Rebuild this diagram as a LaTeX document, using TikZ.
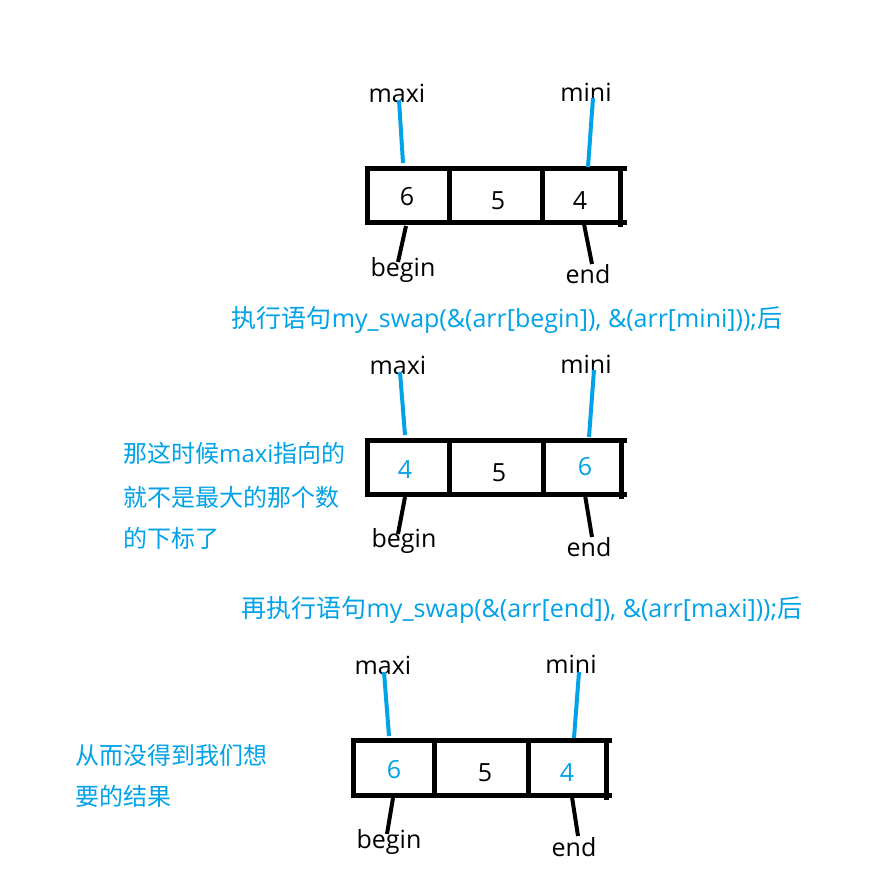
\documentclass[tikz,border=0pt]{standalone}
\usepackage{fontspec}
\setmainfont{Open Sans}
\newfontfamily\cjk{Noto Sans CJK SC}
\definecolor{pblue}{HTML}{00A2E8}
\tikzset{
  lbl/.style={inner sep=0pt, font=\fontsize{25}{29}\selectfont},
  bnum/.style={lbl, text=pblue},
  btxt/.style={inner sep=0pt, anchor=west, text=pblue, font=\fontsize{24}{28}\selectfont},
  captxt/.style={inner sep=0pt, text=pblue, font=\fontsize{25}{29}\selectfont},
  bline/.style={pblue, line width=4pt},
  kline/.style={black, line width=4pt},
  boxln/.style={black, line width=5pt, line cap=rect},
}
\begin{document}
\begin{tikzpicture}[x=1pt, y=-1pt]
\useasboundingbox (0,0) rectangle (889,884);
\fill[white] (0,0) rectangle (889,884);

% ---------- diagram 1 ----------
\draw[boxln] (367,168) -- (624,168) (367,222) -- (624,222);
\draw[boxln] (367,168) -- (367,222) (449,168) -- (449,222) (542,168) -- (542,222) (620,168) -- (620,224);
\node[lbl] (n1a) at (407,197) {6};
\node[lbl] (n1b) at (498,201) {5};
\node[lbl] (n1c) at (580,201) {4};
\node[lbl] (maxi1) at (397,93) {maxi};
\node[lbl] (mini1) at (586,92) {mini};
\node[lbl] (begin1) at (403,270) {begin};
\node[lbl] (end1) at (588,274) {end};
\coordinate (ma1a) at (399,100); \coordinate (ma1b) at (403,163);
\coordinate (mi1a) at (593,98);  \coordinate (mi1b) at (588,167);
\coordinate (be1a) at (406,226); \coordinate (be1b) at (398,262);
\coordinate (en1a) at (584,224); \coordinate (en1b) at (592,264);
\draw[bline] (ma1a) -- (ma1b);
\draw[bline] (mi1a) -- (mi1b);
\draw[kline] (be1a) -- (be1b);
\draw[kline] (en1a) -- (en1b);

\node[captxt] (cap1) at (507,320) {{\cjk 执行语句}my\_swap(\&(arr[begin]), \&(arr[mini]));{\cjk 后}};

% ---------- diagram 2 ----------
\draw[boxln] (367,440) -- (624,440) (367,494) -- (624,494);
\draw[boxln] (367,440) -- (367,494) (449,440) -- (449,494) (543,440) -- (543,494) (621,440) -- (621,496);
\node[bnum] (n2a) at (405,470) {4};
\node[lbl] (n2b) at (499,473) {5};
\node[bnum] (n2c) at (585,467) {6};
\node[lbl] (maxi2) at (398,365) {maxi};
\node[lbl] (mini2) at (586,364) {mini};
\node[lbl] (begin2) at (404,541) {begin};
\node[lbl] (end2) at (589,547) {end};
\coordinate (ma2a) at (400,372); \coordinate (ma2b) at (405,435);
\coordinate (mi2a) at (594,370); \coordinate (mi2b) at (589,437);
\coordinate (be2a) at (405,497); \coordinate (be2b) at (398,534);
\coordinate (en2a) at (585,495); \coordinate (en2b) at (592,537);
\draw[bline] (ma2a) -- (ma2b);
\draw[bline] (mi2a) -- (mi2b);
\draw[kline] (be2a) -- (be2b);
\draw[kline] (en2a) -- (en2b);

\node[btxt] (side2a) at (123,453) {{\cjk 那这时候}maxi{\cjk 指向的}};
\node[btxt] (side2b) at (123,497) {\cjk 就不是最大的那个数};
\node[btxt] (side2c) at (123,538) {\cjk 的下标了};

\node[captxt] (cap2) at (522,610) {{\cjk 再执行语句}my\_swap(\&(arr[end]), \&(arr[maxi]));{\cjk 后}};

% ---------- diagram 3 ----------
\draw[boxln] (353,740) -- (609,740) (353,795) -- (609,795);
\draw[boxln] (353,740) -- (353,795) (434,740) -- (434,795) (528,740) -- (528,795) (606,740) -- (606,797);
\node[bnum] (n3a) at (394,770) {6};
\node[lbl] (n3b) at (485,773) {5};
\node[bnum] (n3c) at (567,773) {4};
\node[lbl] (maxi3) at (383,665) {maxi};
\node[lbl] (mini3) at (571,664) {mini};
\node[lbl] (begin3) at (389,842) {begin};
\node[lbl] (end3) at (574,847) {end};
\coordinate (ma3a) at (384,672); \coordinate (ma3b) at (389,736);
\coordinate (mi3a) at (579,672); \coordinate (mi3b) at (574,738);
\coordinate (be3a) at (393,798); \coordinate (be3b) at (387,834);
\coordinate (en3a) at (572,797); \coordinate (en3b) at (578,836);
\draw[bline] (ma3a) -- (ma3b);
\draw[bline] (mi3a) -- (mi3b);
\draw[kline] (be3a) -- (be3b);
\draw[kline] (en3a) -- (en3b);

\node[btxt] (side3a) at (75,755) {\cjk 从而没得到我们想};
\node[btxt] (side3b) at (75,796) {\cjk 要的结果};
\end{tikzpicture}
\end{document}
